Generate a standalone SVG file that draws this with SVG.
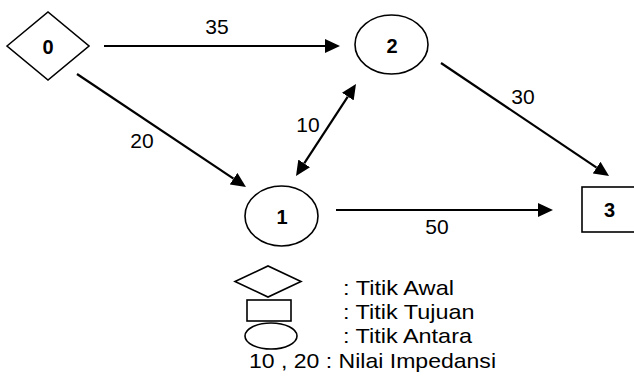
<svg xmlns="http://www.w3.org/2000/svg" width="634" height="383" viewBox="0 0 634 383">
  <style>
    .shape { fill: #fff; stroke: #000; stroke-width: 1.6; }
    .edge { fill: none; stroke: #000; stroke-width: 2.2; }
    .node-label { font-family: "Liberation Sans", Arial, sans-serif; font-size: 20px; font-weight: bold; text-anchor: middle; fill: #000; }
    .edge-label { font-family: "Liberation Sans", Arial, sans-serif; font-size: 21px; text-anchor: middle; fill: #000; }
    .legend-text { font-family: "Liberation Sans", Arial, sans-serif; font-size: 21px; fill: #000; }
  </style>
  <defs>
    <marker id="arrow" markerUnits="userSpaceOnUse" markerWidth="16" markerHeight="14" refX="0" refY="7" orient="auto-start-reverse">
      <path d="M0,0 L15,7 L0,14 z" fill="#000"/>
    </marker>
  </defs>
  <rect width="634" height="383" fill="#fff"/>

  <!-- connectors -->
  <g id="connectors">
    <line class="edge" x1="104" y1="46" x2="325" y2="46" marker-end="url(#arrow)"/>
    <line class="edge" x1="77" y1="74" x2="233.5" y2="178.7" marker-end="url(#arrow)"/>
    <line class="edge" x1="441" y1="63" x2="596.6" y2="167.6" marker-end="url(#arrow)"/>
    <line class="edge" x1="336" y1="210" x2="538" y2="210" marker-end="url(#arrow)"/>
    <line class="edge" x1="304.2" y1="163.4" x2="347.8" y2="96.6" marker-start="url(#arrow)" marker-end="url(#arrow)"/>
    <text class="edge-label" x="217" y="34">35</text>
    <text class="edge-label" x="142" y="148">20</text>
    <text class="edge-label" x="523" y="104">30</text>
    <text class="edge-label" x="308" y="132">10</text>
    <text class="edge-label" x="437" y="234">50</text>
  </g>

  <!-- start node -->
  <g id="node-0">
    <polygon class="shape" points="7,46 48,12 89,46 48,80"/>
    <text class="node-label" x="48" y="54">0</text>
  </g>

  <!-- intermediate nodes -->
  <g id="node-1">
    <ellipse class="shape" cx="281.5" cy="216" rx="36.5" ry="30"/>
    <text class="node-label" x="282" y="224">1</text>
  </g>
  <g id="node-2">
    <ellipse class="shape" cx="391.5" cy="44.5" rx="36.5" ry="29.5"/>
    <text class="node-label" x="392" y="53">2</text>
  </g>

  <!-- destination node -->
  <g id="node-3">
    <rect class="shape" x="582" y="187" width="60" height="45"/>
    <text class="node-label" x="609.5" y="217">3</text>
  </g>

  <!-- legend -->
  <g id="legend">
    <polygon class="shape" points="235,281.5 268,266 301,281.5 268,297"/>
    <rect class="shape" x="247" y="300" width="44" height="21"/>
    <ellipse class="shape" cx="271" cy="336" rx="26" ry="13"/>
    <text class="legend-text" x="343" y="295" textLength="111" lengthAdjust="spacingAndGlyphs">: Titik Awal</text>
    <text class="legend-text" x="343" y="319" textLength="131.5" lengthAdjust="spacingAndGlyphs">: Titik Tujuan</text>
    <text class="legend-text" x="343" y="343" textLength="129" lengthAdjust="spacingAndGlyphs">: Titik Antara</text>
    <text class="legend-text" x="249" y="368" textLength="247" lengthAdjust="spacingAndGlyphs">10 , 20 : Nilai Impedansi</text>
  </g>
</svg>
